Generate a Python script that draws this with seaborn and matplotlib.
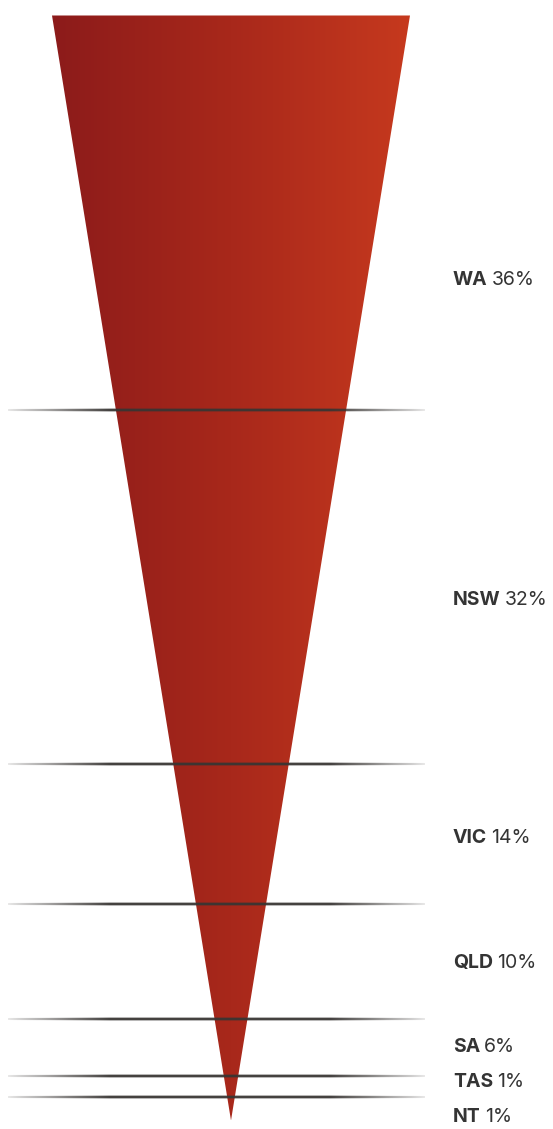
import numpy as np
import pandas as pd
import seaborn as sns
import matplotlib
matplotlib.use("Agg")
import matplotlib.pyplot as plt
from matplotlib.patches import Polygon
from matplotlib.colors import LinearSegmentedColormap

# ---- data ----
states = ["WA", "NSW", "VIC", "QLD", "SA", "TAS", "NT"]
share_labels = [36, 32, 14, 10, 6, 1, 1]
# band depths as drawn in the funnel (percent of total height)
band_depth = [35.7, 32.0, 12.7, 10.4, 5.2, 1.9, 2.1]

df = pd.DataFrame({"state": states, "share": share_labels, "depth": band_depth})
df["bottom"] = df["depth"].cumsum()
df["top"] = df["bottom"] - df["depth"]

sns.set_theme(style="white")
plt.rcParams["font.family"] = ["Inter", "DejaVu Sans"]

W, H = 553, 1129
fig = plt.figure(figsize=(W / 100, H / 100), dpi=100)
ax = fig.add_axes([0, 0, 1, 1])
ax.set_axis_off()

# coordinate scales (x: funnel half-widths, y: cumulative percent)
px_x = 179.0
cx = 231.0
y0_px, y1_px = 15.5, 1120.5
total = df["bottom"].iloc[-1]
px_y = (y1_px - y0_px) / total
ax.set_xlim(-cx / px_x, (W - cx) / px_x)
ax.set_ylim(total + (H - y1_px) / px_y, -y0_px / px_y)

# gradient funnel
cmap = LinearSegmentedColormap.from_list("funnel", ["#8c1b1a", "#a8281b", "#c6391e"])
grad = np.linspace(0, 1, 256).reshape(1, -1)
im = ax.imshow(grad, cmap=cmap, aspect="auto", extent=[-1, 1, total, 0], zorder=1,
               interpolation="bilinear")
tri = Polygon([[-1, 0], [1, 0], [0, total]], closed=True, transform=ax.transData,
              facecolor="none", edgecolor="none")
ax.add_patch(tri)
im.set_clip_path(tri)

# tapered separator lines (rendered as small RGBA strips)
x_left_px, x_right_px = 8, 425
ncols = (x_right_px - x_left_px) * 2
nrows = 16
half_px = 3.0  # half height of strip in pixels
xc = np.linspace(x_left_px, x_right_px, ncols)
fade_l = np.clip((xc - x_left_px) / (110 - x_left_px), 0, 1)
fade_r = np.clip((x_right_px - xc) / (x_right_px - 330), 0, 1)
f = np.minimum(fade_l, fade_r) ** 0.8
line_half = 0.5 + 0.9 * f  # pixel half-thickness
yr = np.linspace(-half_px, half_px, nrows)
cov = np.clip(line_half[None, :] + 0.5 - np.abs(yr[:, None]), 0, 1)
alpha = cov * (0.25 + 0.75 * f[None, :])
rgba = np.zeros((nrows, ncols, 4))
rgba[..., 0] = 0.22
rgba[..., 1] = 0.21
rgba[..., 2] = 0.20
rgba[..., 3] = alpha
for yb in df["bottom"].iloc[:-1]:
    dy = half_px / px_y
    ax.imshow(rgba, aspect="auto", interpolation="bilinear", zorder=3,
              extent=[(x_left_px - cx) / px_x, (x_right_px - cx) / px_x,
                      yb + dy, yb - dy])

ax.set_xlim(-cx / px_x, (W - cx) / px_x)
ax.set_ylim(total + (H - y1_px) / px_y, -y0_px / px_y)

# labels
label_y_px = [280, 600, 838, 963, 1047, 1082, 1117]
lx = 453
for st, sh, ypx in zip(df["state"], df["share"], label_y_px):
    yd = (ypx - y0_px) / px_y
    t = ax.text((lx - cx) / px_x, yd, st, fontsize=14, fontweight="bold",
                color="#343434", va="center", ha="left", zorder=4)
    fig.canvas.draw()
    bb = t.get_window_extent()
    x2 = ax.transData.inverted().transform((bb.x1 + 4, 0))[0]
    ax.text(x2, yd, f"{sh}%", fontsize=14, color="#343434", va="center",
            ha="left", zorder=4)

fig.savefig("out.png", dpi=100, facecolor="white")
